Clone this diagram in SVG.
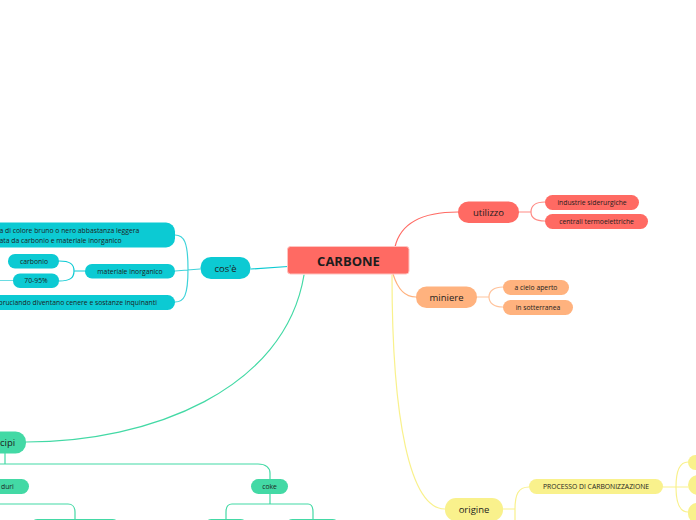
<svg xmlns="http://www.w3.org/2000/svg" width="696" height="520" viewBox="0 0 696 520">
<style>
text{font-family:"Open Sans","Noto Sans","Liberation Sans",sans-serif;fill:#1d1d1d}
.t1{font-size:9.5px;text-anchor:middle}
.t2{font-size:6.8px;text-anchor:middle}
.tl{font-size:6.8px}
.red{fill:#FF6A63}
.org{fill:#FFB27E}
.cy{fill:#0CCAD3}
.gr{fill:#43D9A5}
.yl{fill:#F9F18C}
.c{fill:none;stroke-width:1.2;stroke-linecap:round}
</style>
<rect width="696" height="520" fill="#ffffff"/>
<g id="connectors">
  <path class="c" stroke="#FF6A63" d="M395,247 C400,225 420,212 458,212"/>
  <path class="c" stroke="#FF8A84" d="M519,212 L531,212 M531,212 C531,205 536,202 545,202 M531,212 C531,218 536,221 545,221"/>
  <path class="c" stroke="#FFB27E" d="M393,274 C398,290 405,297 416,297"/>
  <path class="c" stroke="#FFC39C" d="M477,297 L489,297 M489,297 C489,291 494,287 503,287 M489,297 C489,303 494,307 503,307"/>
  <path class="c" stroke="#0CCAD3" d="M288,266.5 L251,269"/>
  <path class="c" stroke="#3ED3DA" d="M200,269 L175,271 M188,269 C188,242 184,235 175,235 M188,269 C188,296 184,302 175,302"/>
  <path class="c" stroke="#0CCAD3" stroke-width="2" d="M85,271 L75,271 M74,271 C74,264 70,261 59,261 M74,271 C74,278 70,281 59,281"/>
  <path class="c" stroke="#6ADCE2" d="M0,280.5 L13,280.5"/>
  <path class="c" stroke="#43D9A5" d="M304,275 C285,390 150,442 26,442"/>
  <path class="c" stroke="#43D9A5" d="M5,453 L5,464 M0,464 L258,464 C266,464 270,468 270,473 L270,479"/>
  <path class="c" stroke="#43D9A5" d="M270,494 L270,504 M232,504 L308,504 M232,504 C228,504 226,507 226,512 L226,520 M308,504 C311,504 313,507 313,512 L313,520"/>
  <path class="c" stroke="#43D9A5" d="M0,504 L68,504 C72,504 75,507 75,512 L75,520"/>
  <path class="c" stroke="#F9F18C" d="M392,275 C392,420 410,509 445,509"/>
  <path class="c" stroke="#F9F18C" d="M503,509 L515,509 M515,509 C515,495 518,487 529,487 M515,509 L515,521"/>
  <path class="c" stroke="#F9F18C" d="M663,487 L688,487 M676,487 C676,470 680,462 688,462 M676,487 C676,505 680,512 688,512"/>
</g>
<g id="carbone">
  <rect x="287.5" y="246.5" width="121.5" height="27.5" rx="3" class="red" stroke="#FFC4C0" stroke-width="1"/>
  <text x="348.5" y="265.5" font-size="13" font-weight="bold" text-anchor="middle">CARBONE</text>
</g>
<g id="utilizzo">
  <rect x="458" y="201.5" width="61" height="21.5" rx="10.5" class="red"/>
  <text class="t1" x="488.5" y="215.5">utilizzo</text>
</g>
<g id="industrie">
  <rect x="545" y="195" width="94" height="15" rx="7.5" class="red"/>
  <text class="t2" x="592" y="204.8">industrie siderurgiche</text>
</g>
<g id="centrali">
  <rect x="545" y="214" width="103" height="15" rx="7.5" class="red"/>
  <text class="t2" x="596.5" y="223.8">centrali termoelettriche</text>
</g>
<g id="miniere">
  <rect x="416" y="286.5" width="61" height="21.5" rx="10.5" class="org"/>
  <text class="t1" x="446.5" y="300.5">miniere</text>
</g>
<g id="cielo">
  <rect x="503" y="280" width="66" height="15" rx="7.5" class="org"/>
  <text class="t2" x="536" y="289.8">a cielo aperto</text>
</g>
<g id="sotterranea">
  <rect x="503" y="300" width="70" height="15" rx="7.5" class="org"/>
  <text class="t2" x="538" y="309.8">in sotterranea</text>
</g>
<g id="cose">
  <rect x="200.5" y="257" width="50" height="22" rx="10.5" class="cy"/>
  <text class="t1" x="225.5" y="271.5">cos'è</text>
</g>
<g id="descrizione">
  <rect x="-20" y="222.5" width="195" height="25" rx="9" class="cy"/>
  <text class="tl" x="-0.5" y="232.5">a di colore bruno o nero abbastanza leggera</text>
  <text class="tl" x="-0.5" y="242.5">ata da carbonio e materiale inorganico</text>
</g>
<g id="materiale">
  <rect x="85" y="264" width="90" height="14.5" rx="7" class="cy"/>
  <text class="t2" x="130" y="273.6">materiale inorganico</text>
</g>
<g id="carbonio">
  <rect x="8" y="254" width="51" height="14.5" rx="7" class="cy"/>
  <text class="t2" x="34" y="263.6">carbonio</text>
</g>
<g id="perc">
  <rect x="13" y="273.5" width="46" height="14.5" rx="7" class="cy"/>
  <text class="t2" x="36" y="283.1">70-95%</text>
</g>
<g id="bruciando">
  <rect x="-20" y="295" width="195" height="15" rx="7.5" class="cy"/>
  <text class="tl" x="-1.5" y="304.6">bruciando diventano cenere e sostanze inquinanti</text>
</g>
<g id="tipi">
  <rect x="-40" y="431.5" width="66" height="22" rx="10.5" class="gr"/>
  <text x="0" y="446" font-size="9.5">cipi</text>
</g>
<g id="duri">
  <rect x="-30" y="479" width="59" height="15" rx="7.5" class="gr"/>
  <text class="tl" x="1" y="488.6">duri</text>
</g>
<g id="coke">
  <rect x="251" y="479" width="37" height="15" rx="7.5" class="gr"/>
  <text class="t2" x="269.5" y="488.6">coke</text>
</g>
<g id="duri-a"><rect x="30" y="519" width="90" height="15" rx="7.5" class="gr"/></g>
<g id="coke-a"><rect x="204" y="519" width="44" height="15" rx="7.5" class="gr"/></g>
<g id="coke-b"><rect x="285" y="519" width="55" height="15" rx="7.5" class="gr"/></g>
<g id="origine">
  <rect x="445" y="498" width="58" height="23" rx="11" class="yl"/>
  <text class="t1" x="474" y="513">origine</text>
</g>
<g id="processo">
  <rect x="529" y="479" width="134" height="15" rx="7.5" class="yl"/>
  <text class="t2" x="596" y="488.6">PROCESSO DI CARBONIZZAZIONE</text>
</g>
<g id="p1"><rect x="688" y="455" width="30" height="15" rx="7.5" class="yl"/></g>
<g id="p2"><rect x="688" y="475" width="30" height="20" rx="10" class="yl"/></g>
<g id="p3"><rect x="688" y="503" width="30" height="20" rx="9" class="yl"/></g>
</svg>
